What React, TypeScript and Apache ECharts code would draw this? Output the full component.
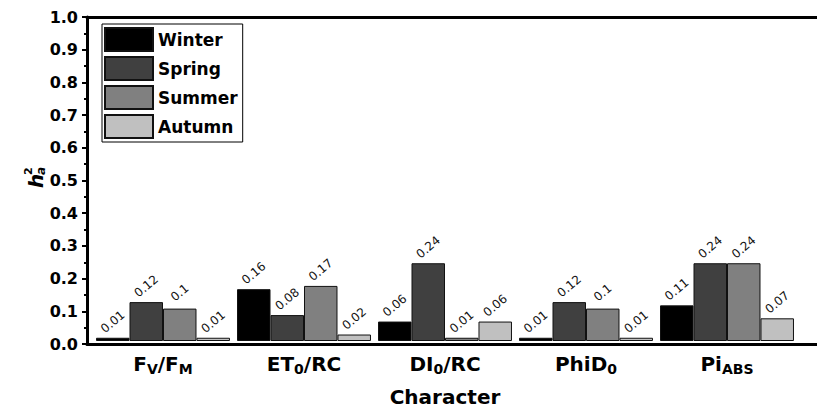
import React, { useEffect, useRef } from "react";
import * as echarts from "echarts";

const categories = ["FV/FM", "ET0/RC", "DI0/RC", "PhiD0", "PiABS"];
// rich-text forms of the category names (subscripts)
const categoryLabels = [
  "{b|F}{s|V}{b|/F}{s|M}",
  "{b|ET}{s|0}{b|/RC}",
  "{b|DI}{s|0}{b|/RC}",
  "{b|PhiD}{s|0}",
  "{b|Pi}{s|ABS}",
];
const seasons = ["Winter", "Spring", "Summer", "Autumn"];
const winter = [0.01, 0.16, 0.06, 0.01, 0.11];
const spring = [0.12, 0.08, 0.24, 0.12, 0.24];
const summer = [0.1, 0.17, 0.01, 0.1, 0.24];
const autumn = [0.01, 0.02, 0.06, 0.01, 0.07];
const seasonValues = [winter, spring, summer, autumn];
const seasonColors = ["#000000", "#404040", "#808080", "#c0c0c0"];

const FONT = "DejaVu Sans";

export default function App() {
  const ref = useRef<HTMLDivElement>(null);

  useEffect(() => {
    if (!ref.current) return;
    const chart = echarts.init(ref.current, null, { renderer: "svg" });

    const frameGrid = { left: 87, right: -10, top: 17, bottom: 68 };
    const barGrid = { left: 92.5, width: 705, top: 17, bottom: 68 };

    const series = seasons.map((name, i) => ({
      name,
      type: "bar",
      xAxisIndex: 1,
      yAxisIndex: 1,
      data: seasonValues[i],
      barGap: "0%",
      barCategoryGap: "5%",
      itemStyle: { color: seasonColors[i], borderColor: "#111", borderWidth: 1 },
      label: {
        show: true,
        position: "top",
        rotate: 40,
        align: "center",
        verticalAlign: "middle",
        distance: 16,
        fontFamily: FONT,
        fontSize: 12,
        color: "#111",
        formatter: (p: any) => String(p.value),
      },
    }));

    chart.setOption({
      animation: false,
      backgroundColor: "#ffffff",
      grid: [frameGrid, barGrid],
      legend: {
        orient: "vertical",
        left: 102,
        top: 24,
        itemWidth: 48,
        itemHeight: 23,
        itemGap: 4,
        padding: [3, 5, 3, 2],
        borderColor: "#000",
        borderWidth: 1,
        icon: "rect",
        selectedMode: false,
        textStyle: { fontFamily: FONT, fontWeight: "bold", fontSize: 17, color: "#000" },
        data: seasons,
      },
      xAxis: [
        {
          type: "category",
          gridIndex: 0,
          data: [""],
          axisLine: { show: true, lineStyle: { color: "#000", width: 3 } },
          axisTick: { show: false },
          axisLabel: { show: false },
        },
        {
          type: "category",
          gridIndex: 1,
          data: categories,
          axisLine: { show: false },
          axisTick: { show: false },
          axisLabel: {
            margin: 13,
            formatter: (_v: string, idx: number) => categoryLabels[idx],
            rich: {
              b: { fontFamily: FONT, fontWeight: "bold", fontSize: 20, color: "#000", lineHeight: 20 },
              s: {
                fontFamily: FONT,
                fontWeight: "bold",
                fontSize: 14,
                color: "#000",
                lineHeight: 14,
                padding: [10, 0, 0, 0],
              },
            },
          },
          name: "Character",
          nameLocation: "middle",
          nameGap: 46,
          nameTextStyle: { fontFamily: FONT, fontWeight: "bold", fontSize: 20, color: "#000" },
        },
        {
          type: "category",
          gridIndex: 0,
          position: "top",
          data: [""],
          axisLine: { show: true, lineStyle: { color: "#000", width: 3 } },
          axisTick: { show: false },
          axisLabel: { show: false },
        },
      ],
      yAxis: [
        {
          type: "value",
          gridIndex: 0,
          min: 0,
          max: 1,
          interval: 0.1,
          axisLine: { show: true, lineStyle: { color: "#000", width: 3 } },
          axisTick: { show: true, length: 5, lineStyle: { color: "#000", width: 2 } },
          minorTick: { show: true, splitNumber: 2, length: 3, lineStyle: { color: "#000", width: 2 } },
          splitLine: { show: false },
          axisLabel: {
            margin: 9,
            fontFamily: FONT,
            fontWeight: "bold",
            fontSize: 16,
            color: "#000",
            formatter: (v: number) => v.toFixed(1),
          },
        },
        {
          type: "value",
          gridIndex: 1,
          min: 0,
          max: 1,
          show: false,
        },
      ],
      graphic: [
        {
          type: "group",
          x: 36,
          y: 180,
          rotation: Math.PI / 2,
          children: [
            {
              type: "text",
              x: -8,
              y: 0,
              style: {
                text: "h",
                fontFamily: FONT,
                fontStyle: "italic",
                fontWeight: "bold",
                fontSize: 20,
                fill: "#000",
                textVerticalAlign: "middle",
              },
            },
            {
              type: "text",
              x: 5,
              y: -8,
              style: {
                text: "2",
                fontFamily: FONT,
                fontWeight: "bold",
                fontSize: 11,
                fill: "#000",
                textVerticalAlign: "middle",
              },
            },
            {
              type: "text",
              x: 5,
              y: 5,
              style: {
                text: "a",
                fontFamily: FONT,
                fontStyle: "italic",
                fontWeight: "bold",
                fontSize: 12,
                fill: "#000",
                textVerticalAlign: "middle",
              },
            },
          ],
        },
      ],
      series,
    });

    return () => chart.dispose();
  }, []);

  return <div ref={ref} style={{ width: 825, height: 412, margin: -8 }} />;
}
